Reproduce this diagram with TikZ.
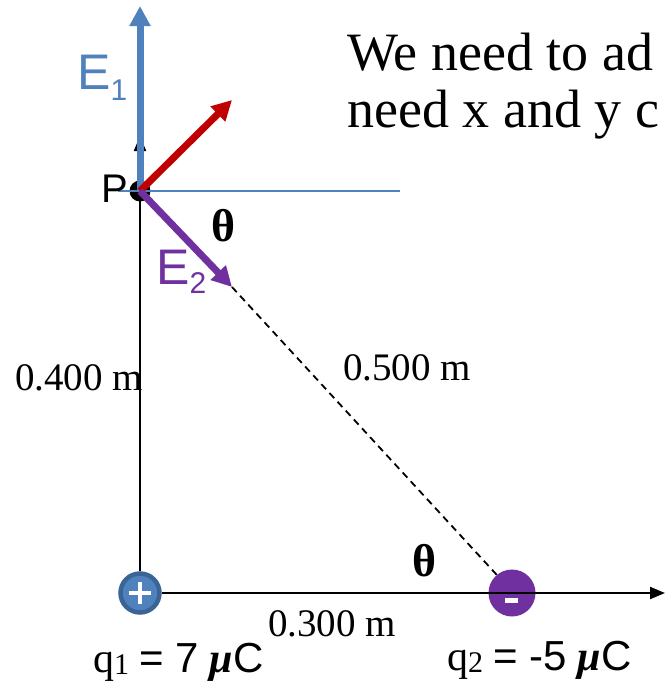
\documentclass[tikz,border=0pt]{standalone}
\usepackage{fontspec}
\setmainfont{Liberation Serif}
\newfontfamily\sansf{Liberation Sans}
\usetikzlibrary{arrows.meta}
\definecolor{eblue}{HTML}{4F81BD}
\definecolor{eblueD}{HTML}{3A6496}
\definecolor{ered}{HTML}{C00000}
\definecolor{epurple}{HTML}{7030A0}
\newcommand{\fsz}[1]{\fontsize{#1}{#1}\selectfont}
\newcommand{\lowsub}[2]{\raisebox{-#1}{\fsz{30}#2}}
\begin{document}
\begin{tikzpicture}[x=1pt,y=-1pt,
  vec/.style={line width=7pt,-{Triangle[length=20pt,width=20pt]}},
  axisline/.style={line width=2.2pt,-{Triangle[length=15pt,width=12pt]}},
  dimlabel/.style={font=\fsz{39}, inner sep=0pt, anchor=base west},
  anglabel/.style={font=\fsz{46}\bfseries, inner sep=0pt},
  veclabel/.style={font=\sansf\fsz{50}, inner sep=0pt, anchor=base west},
  qlabel/.style={font=\fsz{42}, inner sep=0pt, anchor=base west}]
\useasboundingbox (0,0) rectangle (665,686);
% nodes
\node[circle, fill=black, minimum size=21pt, inner sep=0pt] (P) at (140,191) {};
\node[circle, draw=eblueD, line width=4.5pt, fill=eblue, minimum size=39pt, inner sep=0pt] (q1) at (140,593) {};
\node[circle, fill=epurple, minimum size=47pt, inner sep=0pt] (q2) at (512,593) {};
\coordinate (Etop) at (140,6);
\coordinate (ytop) at (140,136);
\coordinate (xend) at (665,593);
\coordinate (Rtip) at (232,100);
\coordinate (Ptip) at (232,287);
\coordinate (hL) at (118,191);
\coordinate (hR) at (400,191);
% axes
\draw[axisline] (q1.north) -- (ytop);
\draw[axisline] (q1.east) -- (xend);
\draw[eblue, line width=2.2pt] (hL) -- (hR);
\draw[line width=1.8pt, dash pattern=on 7pt off 5pt] (Ptip) -- (q2.130);
% charges' signs
\draw[white, line width=4.5pt] ([xshift=-11pt]q1.center) -- ([xshift=11pt]q1.center)
  ([yshift=-11pt]q1.center) -- ([yshift=11pt]q1.center);
\fill[white] ([xshift=-7pt,yshift=-5pt]q2.center) rectangle ([xshift=6pt,yshift=-10pt]q2.center);
% vectors
\draw[vec, eblue] (P.center) -- (Etop);
\draw[vec, ered] (P.center) -- (Rtip);
\draw[vec, epurple] (P.center) -- (Ptip);
% labels
\node[veclabel, text=eblue] (E1) at (77,89) {E\lowsub{11pt}{1}};
\node[veclabel, text=epurple] (E2) at (156,284) {E\lowsub{9pt}{2}};
\node[font=\sansf\fsz{40}, inner sep=0pt, anchor=base east] (Plab) at (128,202) {P};
\node[anglabel] (th1) at (224,226) {θ};
\node[anglabel] (th2) at (425,561) {θ};
\node[dimlabel] (d400) at (15,390) {0.400 m};
\node[dimlabel] (d500) at (343,380) {0.500 m};
\node[dimlabel] (d300) at (268,636) {0.300 m};
\node[qlabel] (q1lab) at (93,672) {q\lowsub{2pt}{1} {\sansf= 7} \textbf{\itshape μ}{\sansf C}};
\node[qlabel] (q2lab) at (447,670) {q\lowsub{2pt}{2} {\sansf= -5} \textbf{\itshape μ}{\sansf C}};
\node[font=\fsz{54}, inner sep=0pt, anchor=base west, align=left] (txt) at (347,127) {We need to ad\\[3pt]need x and y c};
\end{tikzpicture}
\end{document}
